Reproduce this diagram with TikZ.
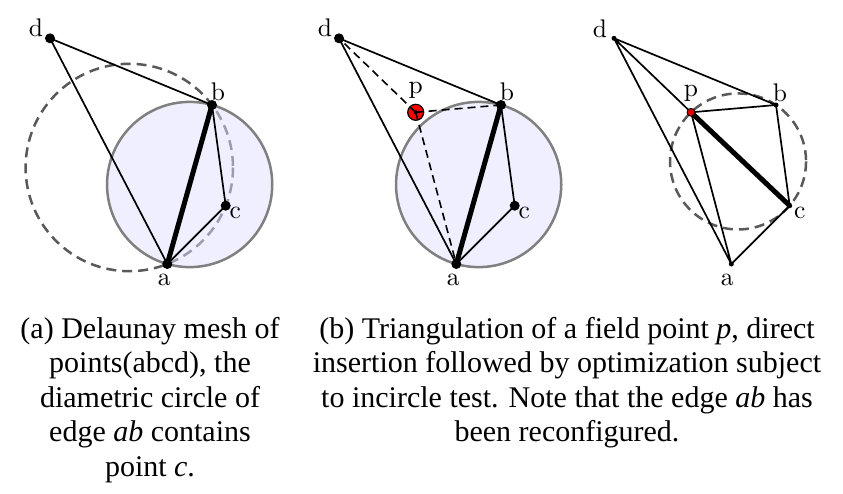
\documentclass[tikz,border=0pt]{standalone}
\usepackage{fontspec}
\newfontfamily\capfont{Liberation Serif}
\newfontfamily\lmten{lmroman10-regular}[Extension=.otf]
\usetikzlibrary{calc}
\begin{document}
\begin{tikzpicture}[x=1pt,y=-1pt,
 dot/.style={circle,fill=black,inner sep=0pt,minimum size=10pt},
 sdot/.style={circle,fill=black,inner sep=0pt,minimum size=5pt},
 pdot/.style={circle,fill=red,draw=black,line width=1.2pt,inner sep=0pt,minimum size=16pt},
 cdot/.style={circle,fill=black,inner sep=0pt,minimum size=4pt},
 spdot/.style={circle,fill=red!85!black,draw=black,line width=0.8pt,inner sep=0pt,minimum size=8pt},
 lbl/.style={inner sep=0pt,font=\lmten\fontsize{25.5}{30}\selectfont},
 edge/.style={line width=1.7pt},
 thickedge/.style={line width=5pt},
 dedge/.style={line width=1.6pt,dash pattern=on 8pt off 5pt},
 circ/.style={line width=2.5pt,draw=black!65,dash pattern=on 10pt off 6pt},
 diam/.style={line width=2.5pt,draw=black!50,fill=blue!12,fill opacity=0.5},
 captxt/.style={align=center,inner sep=0pt,anchor=north,font=\capfont\fontsize{30}{34.5}\selectfont}
]
\useasboundingbox (0,0) rectangle (843,493);

% ---------- panel (a)
\coordinate (D1) at (50,38.3);
\coordinate (B1) at (212,105);
\coordinate (C1) at (225.7,205.7);
\coordinate (A1) at (167.3,264);
\draw[circ] (129.3,167.5) circle[radius=103.7];
\path[diam] ($(A1)!0.5!(B1)$) circle[radius=82.6];
\draw[edge] (D1) -- (B1) (D1) -- (A1) (B1) -- (C1) (A1) -- (C1);
\draw[thickedge] (A1) -- (B1);
\node[dot] (d1) at (D1) {};
\node[dot] (b1) at (B1) {};
\node[dot] (c1) at (C1) {};
\node[dot] (a1) at (A1) {};
\node[lbl] (ld1) at ($(D1)+(-14,-11)$) {d};
\node[lbl] (lb1) at ($(B1)+(6,-13)$) {b};
\node[lbl] (lc1) at ($(C1)+(9.5,7)$) {c};
\node[lbl] (la1) at ($(A1)+(-3,16)$) {a};

% ---------- panel (b)
\coordinate (D2) at (339,38.3);
\coordinate (B2) at (501,105);
\coordinate (C2) at (514.7,205.7);
\coordinate (A2) at (456.3,264);
\coordinate (P2) at (415.7,112.3);
\path[diam] ($(A2)!0.5!(B2)$) circle[radius=82.6];
\draw[edge] (D2) -- (B2) (D2) -- (A2) (B2) -- (C2) (A2) -- (C2);
\draw[thickedge] (A2) -- (B2);
\node[pdot] (p2) at (P2) {};
\draw[dedge] (P2) -- (D2) (P2) -- (B2) (P2) -- (A2);
\node[cdot] (pc2) at (P2) {};
\node[dot] (d2) at (D2) {};
\node[dot] (b2) at (B2) {};
\node[dot] (c2) at (C2) {};
\node[dot] (a2) at (A2) {};
\node[lbl] (ld2) at ($(D2)+(-14,-11)$) {d};
\node[lbl] (lb2) at ($(B2)+(6,-13)$) {b};
\node[lbl] (lc2) at ($(C2)+(9.5,7)$) {c};
\node[lbl] (la2) at ($(A2)+(-3,16)$) {a};
\node[lbl] (lp2) at ($(P2)+(0,-22)$) {p};

% ---------- panel (c)
\coordinate (D3) at (614,38.3);
\coordinate (B3) at (776,105);
\coordinate (C3) at (789.7,205.7);
\coordinate (A3) at (731.3,264);
\coordinate (P3) at (691,112.3);
\draw[circ] (738.04,161.45) circle[radius=68];
\draw[edge] (D3) -- (B3) (D3) -- (P3) (D3) -- (A3) (P3) -- (B3) (P3) -- (A3) (B3) -- (C3) (A3) -- (C3);
\draw[thickedge] (P3) -- (C3);
\node[spdot] (p3) at (P3) {};
\node[sdot] (d3) at (D3) {};
\node[sdot] (b3) at (B3) {};
\node[sdot] (c3) at (C3) {};
\node[sdot] (a3) at (A3) {};
\node[lbl] (ld3) at ($(D3)+(-14,-10)$) {d};
\node[lbl] (lb3) at ($(B3)+(4,-12)$) {b};
\node[lbl] (lc3) at ($(C3)+(10,7)$) {c};
\node[lbl] (la3) at ($(A3)+(-4,16)$) {a};
\node[lbl] (lp3) at ($(P3)+(0,-19)$) {p};

% ---------- captions
\node[captxt] (capa) at (150,316.7) {(a) Delaunay mesh of\\points(abcd), the\\diametric circle of\\edge \textit{ab} contains\\point \textit{c}.};
\node[captxt] (capb) at (567,316.7) {(b) Triangulation of a field point \textit{p}, direct\\insertion followed by optimization subject\\to incircle test. Note that the edge \textit{ab} has\\been reconfigured.};
\end{tikzpicture}
\end{document}
